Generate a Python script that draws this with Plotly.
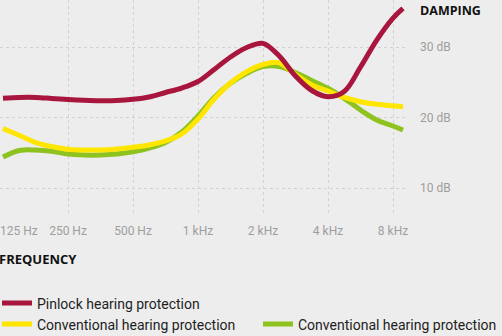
import plotly.graph_objects as go
import math

# Frequency grid (Hz), quarter-octave steps
freq_hz = [125, 149, 177, 210, 250, 297, 354, 420, 500, 595, 707, 841, 1000, 1189,
           1414, 1682, 2000, 2378, 2828, 3364, 4000, 4757, 5657, 6727, 8000, 8900]

pinlock_db = [22.72, 22.84, 22.84, 22.70, 22.55, 22.44, 22.38, 22.41, 22.58, 22.91, 23.55,
              24.18, 25.11, 26.81, 28.58, 29.93, 30.52, 28.72, 25.89, 23.83, 22.95, 23.69,
              27.16, 30.99, 34.11, 35.49]
conv_yellow_db = [18.44, 17.45, 16.45, 15.89, 15.49, 15.39, 15.39, 15.53, 15.77, 16.10, 16.67,
                  17.66, 19.79, 22.62, 24.89, 26.50, 27.52, 27.77, 26.10, 24.61, 23.76, 22.84,
                  22.24, 21.87, 21.66, 21.53]
conv_green_db = [14.40, 15.32, 15.39, 15.22, 14.82, 14.68, 14.68, 14.82, 15.15, 15.67, 16.45,
                 17.94, 20.21, 22.84, 24.85, 26.27, 27.21, 27.23, 26.38, 25.25, 24.14, 22.72,
                 21.06, 19.65, 18.79, 18.23]

series_names = ["Pinlock hearing protection", "Conventional hearing protection",
                "Conventional hearing protection"]
series_colors = ["#a8163e", "#ffe600", "#8dc21f"]

x_first_tick = [125]
x_first_text = ["125 Hz"]
x_tick_vals = [250, 500, 1000, 2000, 4000, 8000]
x_tick_text = ["250 Hz", "500 Hz", "1 kHz", "2 kHz", "4 kHz", "8 kHz"]
y_tick_vals = [10, 20, 30]
y_tick_text = ["10 dB", "20 dB", "30 dB"]

BG = "#ededed"
W, H = 502, 336
ML, MR, MT, MB = 0, 97, 0, 123
PW, PH = W - ML - MR, H - MT - MB

fig = go.Figure()
series = [pinlock_db, conv_yellow_db, conv_green_db]
legend_ids = ["legend", "legend2", "legend3"]
# draw green & yellow first so red is on top
for i in [2, 1, 0]:
    fig.add_trace(go.Scatter(
        x=freq_hz, y=series[i], mode="lines", name=series_names[i],
        line=dict(color=series_colors[i], width=5, shape="spline", smoothing=1),
        legend=legend_ids[i], hoverinfo="skip"))

def lx(px):
    return (px - ML) / PW

def ly(py):
    return 1 - (py - MT) / PH

legend_font = dict(family="Roboto", size=14, color="#1e1e1e")
common_leg = dict(bgcolor="rgba(0,0,0,0)", borderwidth=0, font=legend_font,
                  xanchor="left", yanchor="middle", orientation="h", itemwidth=30)

log2 = math.log10(2)
x_range = [math.log10(125) - 3 / 65 * log2, math.log10(125) + (PW - 3) / 65 * log2]
tick_font = dict(family="Roboto", size=12, color="#9d9d9d")

fig.update_layout(
    width=W, height=H,
    margin=dict(l=ML, r=MR, t=MT, b=MB, autoexpand=False),
    paper_bgcolor=BG, plot_bgcolor=BG,
    showlegend=True,
    legend=dict(x=0, y=ly(303.5), indentation=-3, **common_leg),
    legend2=dict(x=0, y=ly(324.5), indentation=-3, **common_leg),
    legend3=dict(x=lx(258), y=ly(324.5), **common_leg),
    xaxis=dict(
        type="log", automargin=False, range=x_range,
        tickvals=x_tick_vals, ticktext=x_tick_text,
        showgrid=True, gridcolor="#d2d2d2", griddash="dot", gridwidth=1,
        zeroline=False, showline=False, ticks="",
        ticklabelstandoff=9,
        tickfont=tick_font, fixedrange=True),
    xaxis2=dict(
        type="log", automargin=False, range=x_range, overlaying="x", side="bottom",
        anchor="y",
        tickvals=x_first_tick, ticktext=x_first_text,
        ticklabelposition="outside right", ticklabelshift=-3,
        showgrid=False, zeroline=False, showline=False, ticks="",
        ticklabelstandoff=9,
        tickfont=tick_font, fixedrange=True),
    yaxis=dict(
        automargin=False,
        range=[30 - (213 - 47) / 7.05, 30 + 47 / 7.05],
        side="right",
        tickvals=y_tick_vals, ticktext=y_tick_text,
        showgrid=True, gridcolor="#d2d2d2", griddash="dot", gridwidth=1,
        zeroline=False, showline=False, ticks="",
        ticklabelstandoff=14,
        tickfont=tick_font, fixedrange=True),
    annotations=[
        dict(text="<b>DAMPING</b>", xref="paper", yref="paper", x=lx(418), y=ly(11),
             xanchor="left", yanchor="middle", showarrow=False,
             font=dict(family="Open Sans", size=12.5, color="#111111")),
        dict(text="<b>FREQUENCY</b>", xref="paper", yref="paper", x=lx(-3), y=ly(259),
             xanchor="left", yanchor="middle", showarrow=False,
             font=dict(family="Open Sans", size=13, color="#111111")),
    ],
)

# invisible helper trace so the label axis xaxis2 is drawn
fig.add_trace(go.Scatter(x=[125], y=[None], xaxis="x2", yaxis="y", showlegend=False,
                         hoverinfo="skip", mode="lines"))

fig.write_html("out.html", config={"displayModeBar": False})
